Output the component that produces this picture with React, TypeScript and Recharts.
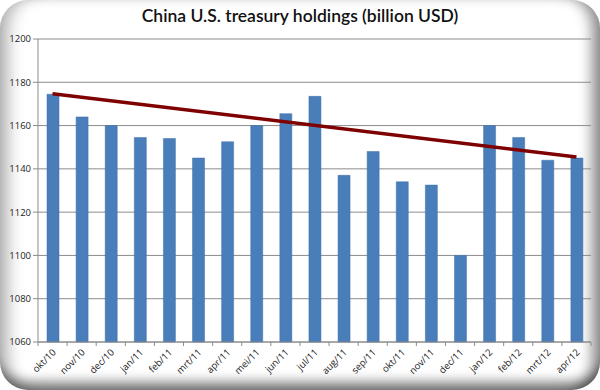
import React from "react";
import {
  Bar,
  CartesianGrid,
  ComposedChart,
  Line,
  XAxis,
  YAxis,
} from "recharts";

// month labels (Dutch abbreviations, as in the source)
const months = [
  "okt/10", "nov/10", "dec/10", "jan/11", "feb/11", "mrt/11", "apr/11",
  "mei/11", "jun/11", "jul/11", "aug/11", "sep/11", "okt/11", "nov/11",
  "dec/11", "jan/12", "feb/12", "mrt/12", "apr/12",
];

// holdings, billion USD
const holdings = [
  1174.5, 1164, 1160, 1154.5, 1154, 1145, 1152.5, 1160, 1165.5, 1173.5,
  1137, 1148, 1134, 1132.5, 1100, 1160, 1154.5, 1144, 1145,
];

// trend line end points
const trendStart = 1174.7;
const trendEnd = 1145.5;

const yTicks = [1060, 1080, 1100, 1120, 1140, 1160, 1180, 1200];

const data = months.map((m, i) => ({
  month: m,
  value: holdings[i],
  trend: i === 0 ? trendStart : i === months.length - 1 ? trendEnd : null,
}));

const W = 600;
const H = 390;
const plotLeft = 38;
const plotRight = 591;
const band = (plotRight - plotLeft) / months.length;

// Excel style: tick marks between categories, labels turned 45 degrees
const MonthTick = (props: any) => {
  const { x, y, index } = props;
  const last = index === months.length - 1;
  const tx = x + 4;
  const ty = y + 11;
  return (
    <g>
      <line x1={x - band / 2} x2={x - band / 2} y1={y} y2={y + 4} stroke="#8c8c8c" />
      {last && <line x1={x + band / 2} x2={x + band / 2} y1={y} y2={y + 4} stroke="#8c8c8c" />}
      <text
        x={tx}
        y={ty}
        textAnchor="end"
        fontSize={9.5}
        fill="#222"
        fontFamily="'Open Sans', sans-serif"
        transform={`rotate(-45 ${tx} ${ty})`}
      >
        {props.payload.value}
      </text>
    </g>
  );
};

export default function App() {
  return (
    <div
      style={{
        position: "absolute",
        left: 0,
        top: 0,
        width: W,
        height: H,
        background: "#fff",
        overflow: "hidden",
      }}
    >
      <div
        style={{
          position: "absolute",
          inset: 0,
          borderRadius: 28,
          boxShadow:
            "inset 16px 0 16px -8px rgba(0,0,0,0.3), inset -16px 0 14px -8px rgba(0,0,0,0.45), inset 0 -16px 12px -8px rgba(0,0,0,0.5)",
        }}
      />
      <div
        style={{
          position: "absolute",
          top: 5,
          left: 0,
          width: W,
          textAlign: "center",
          fontFamily: "Lato, sans-serif",
          fontWeight: 600,
          fontSize: 17.5,
          color: "#111",
        }}
      >
        China U.S. treasury holdings (billion USD)
      </div>
      <div style={{ position: "absolute", left: 0, top: 0 }}>
        <ComposedChart
          width={W}
          height={H}
          data={data}
          barCategoryGap={0}
          margin={{ top: 39, right: W - plotRight, bottom: 0, left: 8 }}
        >
          <CartesianGrid vertical={false} stroke="#8c8c8c" />
          <XAxis
            dataKey="month"
            height={48}
            interval={0}
            stroke="#8c8c8c"
            tickLine={false}
            tickSize={0}
            tickMargin={0}
            tick={<MonthTick />}
          />
          <YAxis
            width={30}
            domain={[1060, 1200]}
            ticks={yTicks}
            interval={0}
            stroke="#8c8c8c"
            tickSize={5}
            tick={{ fontSize: 9.5, fill: "#222", fontFamily: "'Open Sans', sans-serif" }}
          />
          <Bar
            dataKey="value"
            fill="#4a7ebb"
            stroke="#3d6fa8"
            strokeWidth={0.5}
            barSize={12}
            isAnimationActive={false}
          />
          <Line
            dataKey="trend"
            type="linear"
            stroke="#7f0000"
            strokeWidth={3.5}
            dot={false}
            connectNulls
            isAnimationActive={false}
          />
        </ComposedChart>
      </div>
    </div>
  );
}
